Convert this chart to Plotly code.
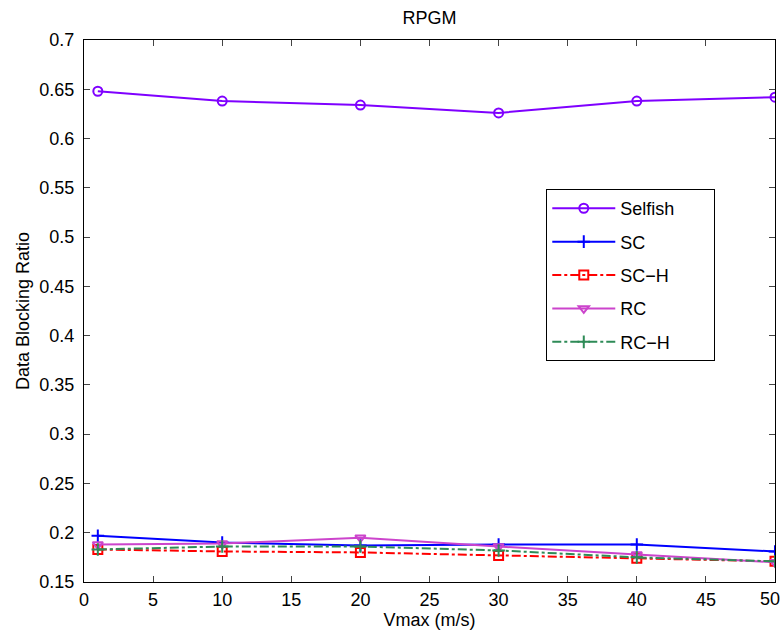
import plotly.graph_objects as go

vmax = [1, 10, 20, 30, 40, 50]
selfish = [0.648, 0.638, 0.634, 0.626, 0.638, 0.642]
sc = [0.197, 0.190, 0.187, 0.188, 0.188, 0.181]
sc_h = [0.183, 0.181, 0.180, 0.177, 0.174, 0.171]
rc = [0.188, 0.189, 0.195, 0.186, 0.178, 0.170]
rc_h = [0.183, 0.186, 0.186, 0.182, 0.175, 0.171]

x_ticks = [0, 5, 10, 15, 20, 25, 30, 35, 40, 45, 50]
x_labels = ["0", "5", "10", "15", "20", "25", "30", "35", "40", "45", "50"]
y_ticks = [0.15, 0.2, 0.25, 0.3, 0.35, 0.4, 0.45, 0.5, 0.55, 0.6, 0.65, 0.7]
y_labels = ["0.15", "0.2", "0.25", "0.3", "0.35", "0.4", "0.45", "0.5", "0.55", "0.6", "0.65", "0.7"]

series = [
    ("Selfish", selfish, "#7F00FF", "solid", "circle-open"),
    ("SC", sc, "#0000FF", "solid", "cross-thin-open"),
    ("SC\u2212H", sc_h, "#FF0000", "dashdot", "square-open"),
    ("RC", rc, "#CC44CC", "solid", "triangle-down-open"),
    ("RC\u2212H", rc_h, "#2E8B57", "dashdot", "cross-thin-open"),
]

legend_pad = "\u2002\u2002\u2002\u2009\u2009"

fig = go.Figure()
for name, ys, color, dash, sym in series:
    fig.add_trace(go.Scatter(
        x=vmax, y=ys, name=name + legend_pad, legendgroup=name, mode="lines+markers",
        line=dict(color=color, width=2, dash=dash),
        marker=dict(symbol=sym, size=9, color=color, line=dict(color=color, width=2)),
    ))

font = dict(family="Liberation Sans, Arial, sans-serif", size=18, color="black")

# the last tick label sits at the right edge of the figure; draw it as a
# right-nudged annotation so it stays fully inside the picture (as in the reference)
axis_ticktext = x_labels[:-1] + [""]
fig.add_annotation(x=x_ticks[-1], xref="x", y=0, yref="paper", text=x_labels[-1],
                   showarrow=False, xanchor="center", yanchor="top", xshift=-5, yshift=-6,
                   font=font, borderpad=0)

fig.update_layout(
    width=783, height=635,
    margin=dict(l=84, r=8, t=40, b=53, autoexpand=False),
    paper_bgcolor="white", plot_bgcolor="white",
    font=font,
    title=dict(text="RPGM", x=0.5, xref="paper", xanchor="center",
               yref="container", y=1 - 18 / 635, yanchor="middle", font=font),
    showlegend=True,
    legend=dict(x=0.669, y=0.725, xanchor="left", yanchor="top", bgcolor="white",
                bordercolor="black", borderwidth=1, font=font, itemwidth=63,
                traceorder="grouped", tracegroupgap=7),
    xaxis=dict(range=[0, 50], tickvals=x_ticks, ticktext=axis_ticktext, ticks="inside", ticklen=6,
               showline=True, linecolor="black", linewidth=1, mirror="ticks", showgrid=False,
               zeroline=False, automargin=False, ticklabelstandoff=1,
               title=dict(text="Vmax (m/s)", standoff=0, font=font), tickfont=font),
    yaxis=dict(range=[0.15, 0.7], tickvals=y_ticks, ticktext=y_labels, ticks="inside", ticklen=6,
               showline=True, linecolor="black", linewidth=1, mirror="ticks", showgrid=False,
               zeroline=False, automargin=False, ticklabelstandoff=5,
               title=dict(text="Data Blocking Ratio", standoff=5, font=font), tickfont=font),
)

fig.write_html("out.html", config={"displayModeBar": False},
               post_script="document.body.style.margin='0px';document.documentElement.style.overflow='hidden';")
